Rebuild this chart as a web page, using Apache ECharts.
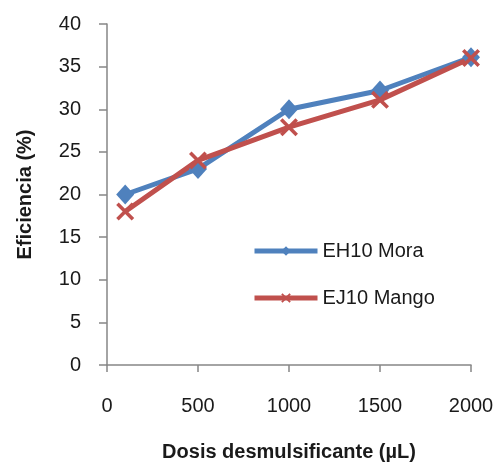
<!DOCTYPE html>
<html><head><meta charset="utf-8">
<script src="https://cdn.jsdelivr.net/npm/echarts@6/dist/echarts.min.js"></script>
<style>html,body{margin:0;padding:0;background:#fff}#c{width:502px;height:464px}</style>
</head><body><div id="c"></div>
<script>
const doses = [100, 500, 1000, 1500, 2000];
const moraValues = [20, 23, 30, 32.2, 36.1];
const mangoValues = [18, 24, 27.9, 31.1, 36];
const seriesNames = ['EH10 Mora', 'EJ10 Mango'];
const xTitle = 'Dosis desmulsificante (µL)';
const yTitle = 'Eficiencia (%)';

const xSymbol = 'path://M0,1.4 L1.4,0 L5,3.6 L8.6,0 L10,1.4 L6.4,5 L10,8.6 L8.6,10 L5,6.4 L1.4,10 L0,8.6 L3.6,5 Z';
const font = 'Liberation Sans';
const axisColor = '#868686';

const chart = echarts.init(document.getElementById('c'), null, {renderer: 'canvas'});
chart.setOption({
  animation: false,
  backgroundColor: '#fff',
  grid: {left: 107, right: 31, top: 24, bottom: 99, containLabel: false, outerBoundsMode: 'none'},
  legend: {
    orient: 'vertical', left: 247, top: 236,
    itemWidth: 63, itemHeight: 12, itemGap: 27,
    lineStyle: {width: 5},
    textStyle: {fontFamily: font, fontSize: 20, color: '#1a1a1a'},
    data: seriesNames
  },
  xAxis: {
    type: 'value', min: 0, max: 2000, interval: 500,
    name: xTitle, nameLocation: 'middle', nameGap: 77,
    nameTextStyle: {fontFamily: font, fontSize: 20, fontWeight: 'bold', color: '#1a1a1a'},
    axisLine: {show: true, lineStyle: {color: axisColor, width: 1.5}},
    axisTick: {show: true, inside: false, length: 7, lineStyle: {color: axisColor, width: 1.5}},
    axisLabel: {fontFamily: font, fontSize: 20, color: '#1a1a1a', margin: 31, formatter: v => String(v)},
    splitLine: {show: false}
  },
  yAxis: {
    type: 'value', min: 0, max: 40, interval: 5,
    name: yTitle, nameLocation: 'middle', nameGap: 72, nameRotate: 90,
    nameTextStyle: {fontFamily: font, fontSize: 20, fontWeight: 'bold', color: '#1a1a1a'},
    axisLine: {show: true, lineStyle: {color: axisColor, width: 1.5}},
    axisTick: {show: true, inside: false, length: 8, lineStyle: {color: axisColor, width: 1.5}},
    axisLabel: {fontFamily: font, fontSize: 20, color: '#1a1a1a', margin: 26},
    splitLine: {show: false}
  },
  series: [
    {
      name: seriesNames[0], type: 'line',
      data: doses.map((d, i) => [d, moraValues[i]]),
      symbol: 'diamond', symbolSize: [18, 20],
      lineStyle: {color: '#4F81BD', width: 5},
      itemStyle: {color: '#4F81BD'}
    },
    {
      name: seriesNames[1], type: 'line',
      data: doses.map((d, i) => [d, mangoValues[i]]),
      symbol: xSymbol, symbolSize: 18,
      lineStyle: {color: '#C0504D', width: 5},
      itemStyle: {color: '#C0504D'}
    }
  ]
});
</script></body></html>
